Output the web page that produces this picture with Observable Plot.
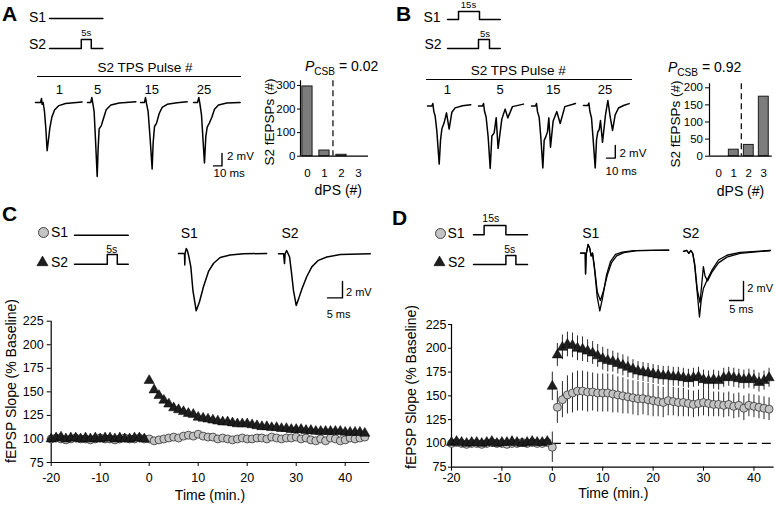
<!DOCTYPE html>
<html><head><meta charset="utf-8">
<script src="https://cdn.jsdelivr.net/npm/d3@7"></script>
<script src="https://cdn.jsdelivr.net/npm/@observablehq/plot@0.6"></script>
<style>
body{margin:0;background:#fff;}
#fig{position:relative;width:775px;height:509px;overflow:hidden;background:#fff;font-family:"Liberation Sans",Arial,Helvetica,sans-serif;color:#000;}
.t{position:absolute;white-space:nowrap;line-height:1;}
.t sub{font-size:0.72em;vertical-align:-0.35em;line-height:0;}
.hl{position:absolute;background:#000;height:1.3px;}
</style></head><body><div id="fig"></div>
<script>
// ---------------- DATA ----------------
// Bar charts: number of S2 fEPSPs by number of dendritic population spikes (dPS)
const dpsCats = [0, 1, 2, 3];
const countsA = [296, 24, 6, 0];
const countsB = [0, 19, 33, 174];
const dpsThreshold = 1.5;
const pcsbA = "0.02", pcsbB = "0.92";
const pulseLabels = ["1", "5", "15", "25"];

// Stimulation protocol schematics [time unit, level]
const protoA_S1 = [[0,0],[26.7,0]];
const protoA_S2 = [[0,0],[15.9,0],[15.9,1],[20.9,1],[20.9,0],[26.7,0]];
const protoB_S1 = [[0,0],[5.5,0],[5.5,1],[16,1],[16,0],[26.4,0]];
const protoB_S2 = [[0,0],[15.5,0],[15.5,1],[21,1],[21,0],[26.4,0]];
const protoC_S1 = [[0,0],[26.9,0]];
const protoC_S2 = [[0,0],[16.4,0],[16.4,1],[21.4,1],[21.4,0],[26.9,0]];
const protoD_S1 = [[0,0],[5.3,0],[5.3,1],[16.2,1],[16.2,0],[27,0]];
const protoD_S2 = [[0,0],[16.2,0],[16.2,1],[21.2,1],[21.2,0],[27,0]];

// Example traces [ms, mV]
const traceA1 = [[0,0],[5.9,0],[7.1,0.65],[7.8,-0.3],[9,0],[10.6,-1.5],[12.2,-4.3],[13.7,-7.8],[15.3,-6],[16.9,-4.1],[19.2,-2.4],[22.4,-1.2],[27.5,-0.5],[35.3,-0.15],[54.9,0.1]];
const traceA5 = [[0,0],[3.9,0],[5.1,0.8],[6.3,-0.2],[7.8,-1.5],[9.4,-6],[11.4,-12],[12.5,-7.5],[13.7,-4.3],[16.1,-3.8],[18.8,-2.6],[22,-1.2],[27.5,-0.4],[37.3,-0.1],[56.9,0.1]];
const traceA15 = [[0,0],[4.7,0],[5.9,0.8],[7.1,-0.2],[9,-1.5],[11.4,-6],[13.7,-10.8],[14.9,-6.5],[16.5,-3.9],[18.8,-3.4],[22,-1.8],[25.5,-0.8],[31.4,-0.3],[43,-0.05],[54.9,0.1]];
const traceA25 = [[0,0],[4.7,0],[6.3,0.8],[7.5,-0.2],[9.4,-2],[11.4,-6.5],[12.9,-9.8],[14.5,-5.5],[16.1,-4],[18.8,-3.3],[21.6,-2.4],[24.7,-1.1],[29.4,-0.4],[39.2,-0.1],[54.9,0]];
const traceB1 = [[0,0],[4.9,0],[6.1,0.4],[7.2,-0.9],[8.7,-1.6],[10.6,-4],[13.3,-9.3],[14.8,-5.5],[16.3,-3.7],[18.9,-2.7],[21.6,-1.1],[24.6,-3.7],[27.7,-1.0],[31.4,-0.3],[39.8,0.05],[49.2,0.2]];
const traceB5 = [[0,0],[4.5,0],[5.7,0.4],[6.8,-0.8],[8.7,-1.8],[11,-5],[13.3,-10],[15.2,-4.8],[17.8,-4.3],[20.1,-1.9],[22.3,-6.8],[26.5,-2.1],[30.3,-0.5],[33.3,-1.9],[38.6,-0.1],[51.1,0.3]];
const traceB15 = [[0,0],[4.5,0],[5.7,0.4],[6.8,-0.9],[8.7,-1.8],[10.6,-5],[12.9,-9.9],[14.4,-5.5],[16.3,-4.9],[18.2,-4.1],[19.7,-1.9],[21.6,-6.6],[24.6,-2.4],[28.8,-0.9],[32.6,-2.8],[37.9,-0.1],[50,0.4]];
const traceB25 = [[0,0],[4.9,0],[6.1,0.4],[7.2,-0.9],[9.1,-2],[11,-5.5],[13.3,-10],[14.8,-5.5],[16.3,-4.2],[17.8,-3.9],[19.3,-2.4],[21.6,-5.9],[25,-1.5],[27.7,0.8],[30.3,-1.8],[33,-4],[36,-1.5],[39.8,-0.4],[45.5,0],[51.9,0.3]];
const traceC_S1 = [[0,0],[1.7,0],[2.0,0],[2.1,-1.4],[2.2,0],[2.6,0.6],[3.0,0.3],[3.4,-0.3],[4.1,-1.6],[4.8,-4.5],[5.9,-7.0],[7.0,-5.9],[8.3,-4.1],[10,-2.2],[11.7,-1.2],[13.9,-0.5],[17.2,-0.2],[21.7,-0.05],[29.4,0]];
const traceC_S2 = [[0,0],[1.7,0],[2.0,-1.2],[2.2,0],[2.7,0.4],[3.1,0.1],[3.7,-0.4],[4.3,-2.2],[5,-4.5],[5.9,-6.3],[6.7,-5.5],[7.8,-4.3],[9.4,-2.8],[11.1,-1.6],[13.3,-0.8],[16.1,-0.4],[20.6,-0.1],[30.6,0]];
const traceD_S1pre = [[0,-0.3],[1.7,-0.3],[1.8,-2.5],[2.0,-0.5],[2.7,0.6],[3.3,0.2],[3.8,-0.6],[4.3,-0.3],[5,-1.8],[6,-4.4],[7.1,-5.3],[8.2,-4.3],[9.6,-2.6],[11.1,-1.3],[12.9,-0.6],[15.5,-0.25],[20.2,-0.05],[31.5,0]];
const traceD_S1post = [[0,-0.3],[1.7,-0.3],[1.8,-2.5],[2.0,-0.5],[2.7,0.6],[3.3,0.2],[3.8,-0.6],[4.3,-0.3],[5,-2],[6,-5],[6.9,-6.4],[7.9,-5],[9.3,-2.6],[10.7,-1.2],[12.5,-0.45],[14.9,-0.2],[19,-0.05],[31.5,0]];
const traceD_S2post = [[0,0],[1.2,0.1],[1.9,-0.2],[2.6,0.1],[3.3,-0.2],[4.0,-1.5],[4.8,-4],[5.7,-6.9],[6.3,-5.2],[7.1,-3.9],[8.3,-3.1],[10.1,-2],[12.5,-0.9],[15.5,-0.4],[20.2,-0.1],[31,0.1]];
const traceD_S2pre = [[0,0],[1.2,0.1],[1.9,-0.2],[2.6,0.1],[3.3,-0.2],[4.0,-1.3],[4.9,-4],[5.9,-5.4],[6.6,-3.2],[7.1,-1.6],[7.7,-2.6],[8.6,-3.1],[10.1,-2.2],[12.5,-1.2],[15.5,-0.6],[20.2,-0.2],[31,0.1]];

// Scale bars [ms, mV]
const scaleAB = [10, 2];
const scaleCD = [5, 2];

// Time courses (% baseline), one sample per minute
const timeC = d3.range(-20, 45);
const s1C = [100,101,100,99,100,101,100,100,99,100,101,100,100,99,100,101,100,100,101,100,
  100,
  98,99,100,101,102,101,103,104,103,105,103,102,102,100,101,100,99,100,101,100,100,101,101,100,102,101,100,101,101,102,100,101,99,98,100,98,101,100,98,99,101,100,101,102];
const s2C = [100,101,102,100,101,101,100,101,100,101,100,101,101,100,101,100,100,101,101,100,
  162,
  152,146,141,137,133,131,129,127,126,123,122,121,120,119,118,118,117,116,116,116,115,114,113,113,112,112,111,111,110,110,110,109,109,108,108,108,108,108,108,107,107,107,107,106];

const timeD = d3.range(-20, 44);
const s1D = [100,101,100,99,100,100,99,100,101,100,100,99,100,100,101,100,101,100,100,101,
  96,
  138,146,151,153,155,155,154,154,153,153,153,152,151,150,149,148,147,147,146,145,144,143,145,144,143,143,142,141,142,143,142,141,141,140,141,139,140,137,140,139,138,137,136];
const s2D = [101,102,101,100,101,101,100,101,102,100,101,101,102,101,100,101,102,101,101,102,
  160,
  193,201,204,203,200,199,197,195,192,189,187,186,184,182,180,178,176,175,174,173,172,171,171,170,170,169,168,169,170,167,166,167,166,169,170,169,168,167,168,167,164,166,169];
const errS1D = [3,3,3,3,3,3,3,3,3,3,3,3,3,3,3,3,3,3,3,3,
  16,
  17,19,20,21,21,21,21,20,20,20,20,20,19,19,18,18,18,17,17,17,16,16,16,15,15,15,14,14,14,14,14,13,13,13,13,13,13,13,12,12,12,12,12];
const errS2D = [3,3,3,3,3,3,3,3,3,3,3,3,3,3,3,3,3,3,3,3,
  15,
  12,13,13,13,13,13,12,12,12,12,12,11,11,11,11,10,10,10,10,10,10,10,10,10,10,10,10,10,10,10,10,10,10,10,10,10,10,10,10,10,10,10,10];

const timeTicks = [-20,-10,0,10,20,30,40];
const slopeTicks = [75,100,125,150,175,200,225];

// ---------------- HELPERS ----------------
const FONT = '"Liberation Sans", Arial, Helvetica, sans-serif';
const fig = document.getElementById("fig");
function place(el, left, top) {
  el.style.position = "absolute"; el.style.left = left + "px"; el.style.top = top + "px";
  fig.appendChild(el); return el;
}
function text(str, x, y, o = {}) {
  const d = document.createElement("div");
  d.className = "t";
  if (o.html) d.innerHTML = str; else d.textContent = str;
  d.style.fontSize = (o.size || 13) + "px";
  if (o.bold) d.style.fontWeight = "bold";
  const a = o.anchor || "middle";
  const tx = a === "middle" ? "-50%" : a === "end" ? "-100%" : "0";
  d.style.transform = `translate(${tx},-50%)` + (o.rotate ? ` rotate(${o.rotate}deg)` : "");
  place(d, x, y);
}
function hline(x1, x2, y) {
  const d = document.createElement("div"); d.className = "hl";
  d.style.width = (x2 - x1) + "px"; place(d, x1, y);
}
const baseStyle = {fontFamily: FONT, color: "#000", background: "transparent", overflow: "visible"};
// Line group drawn with its own linear scales; (ax, ay) = pixel position of (0,0)
function linePlot(series, o) {
  const pad = 3;
  const w = (o.xMax - o.xMin) * o.pxX, h = (o.yMax - o.yMin) * o.pxY;
  const p = Plot.plot({
    width: w + 2 * pad, height: h + 2 * pad,
    marginTop: pad, marginBottom: pad, marginLeft: pad, marginRight: pad,
    style: baseStyle,
    x: {domain: [o.xMin, o.xMax], axis: null},
    y: {domain: [o.yMin, o.yMax], axis: null},
    marks: series.map(s => Plot.line(s, {stroke: "#000", strokeWidth: o.sw || 1.4, strokeLinejoin: "round"}))
  });
  place(p, o.ax + o.xMin * o.pxX - pad, o.ay - o.yMax * o.pxY - pad);
}
function trace(series, ax, ay, pxX, pxY, sw) {
  const all = series.flat();
  const xs = all.map(d => d[0]), ys = all.map(d => d[1]);
  linePlot(series, {ax, ay, pxX, pxY, sw, xMin: 0, xMax: d3.max(xs), yMin: d3.min(ys), yMax: Math.max(0.1, d3.max(ys))});
}
function scaleBar([ms, mv], cx, cy, pxX, pxY) {
  linePlot([[[-ms, 0], [0, 0], [0, mv]]], {ax: cx, ay: cy, pxX, pxY, xMin: -ms, xMax: 0, yMin: 0, yMax: mv, sw: 1.4});
}
function proto(steps, ax, ay, pxY) {
  const xs = steps.map(d => d[0]);
  linePlot([steps], {ax, ay, pxX: 2, pxY, xMin: 0, xMax: d3.max(xs), yMin: 0, yMax: 1, sw: 1.5});
}
function legendDot(symbol, cx, cy) {
  const p = Plot.plot({
    width: 16, height: 16, margin: 0, style: baseStyle,
    x: {domain: [-1, 1], axis: null}, y: {domain: [-1, 1], axis: null},
    marks: symbol === "circle"
      ? [Plot.dot([[0, 0]], {r: 5, fill: "#c4c4c4", stroke: "#333", strokeWidth: 0.9})]
      : [Plot.dot([[0, 0]], {symbol: "triangle", r: 4.1, fill: "#1e1e1e", stroke: "#000", strokeWidth: 0.6})]
  });
  place(p, cx - 8, cy - 8);
}
function barPlot(counts, o) {
  const rows = dpsCats.map((c, i) => ({dps: c, n: counts[i]}));
  const p = Plot.plot({
    width: o.width, height: o.height,
    marginTop: o.mt, marginBottom: o.mb, marginLeft: o.ml, marginRight: o.mr,
    style: {...baseStyle, fontSize: "11.5px"},
    x: {domain: o.xDomain, ticks: dpsCats, tickSize: 0, tickPadding: 13, tickFormat: d => `${d}`, label: null},
    y: {domain: o.yDomain, ticks: o.yTicks, tickSize: o.yts, tickPadding: o.ytp, tickFormat: d => `${d}`, label: null},
    marks: [
      Plot.rectY(rows, {x1: d => d.dps - o.hw, x2: d => d.dps + o.hw, y: "n", fill: "#7c7c7c", stroke: "#1a1a1a", strokeWidth: 1}),
      Plot.ruleX([dpsThreshold], {stroke: "#000", strokeWidth: 1.2, strokeDasharray: "6,4"}),
      Plot.ruleY([0], {stroke: "#000", strokeWidth: 1.2}),
      Plot.ruleX([o.xDomain[0]], {stroke: "#000", strokeWidth: 1.2})
    ]
  });
  place(p, o.left, o.top);
}
function tsPlot(o, marks) {
  const p = Plot.plot({
    width: o.width, height: o.height,
    marginTop: o.mt, marginBottom: o.mb, marginLeft: o.ml, marginRight: o.mr,
    style: {...baseStyle, fontSize: "12.5px"},
    x: {domain: o.xDomain, ticks: timeTicks, tickSize: 4, tickPadding: o.xtp, tickFormat: d => `${d}`, label: null},
    y: {domain: [75, 225], ticks: slopeTicks, tickSize: o.yts, tickPadding: o.ytp, tickFormat: d => `${d}`, label: null},
    marks: [
      Plot.ruleX([o.xDomain[0]], {stroke: "#000", strokeWidth: 1.2}),
      Plot.ruleY([75], {stroke: "#000", strokeWidth: 1.2}),
      ...marks
    ]
  });
  place(p, o.left, o.top);
}
const circleStyle = {r: 4, fill: "#c4c4c4", stroke: "#333", strokeWidth: 0.8};
const triStyle = {symbol: "triangle", r: 3.8, fill: "#1e1e1e", stroke: "#000", strokeWidth: 0.5};

// ---------------- PANEL A ----------------
text("A", 9.5, 13, {size: 21, bold: true});
text("S1", 37.5, 16.7, {size: 14});
text("S2", 37.5, 44.3, {size: 14});
proto(protoA_S1, 49.3, 18.3, 9);
proto(protoA_S2, 49.3, 48.3, 9);
text("5s", 86.2, 33.3, {size: 9.5});
text("S2 TPS Pulse #", 145, 67.7, {size: 13.5});
hline(36.7, 240.7, 75.5);
[59.3, 97.7, 151.7, 204].forEach((x, i) => text(pulseLabels[i], x, 89.3, {size: 13}));
[[traceA1, 35], [traceA5, 86.7], [traceA15, 140], [traceA25, 193.3]].forEach(([tr, x]) => trace([tr], x, 101.7, 0.85, 6.17, 1.5));
scaleBar(scaleAB, 221.5, 165.3, 0.85, 6.2);
text("2 mV", 227, 156.5, {size: 11.5, anchor: "start"});
text("10 ms", 213.5, 174.3, {size: 11.5, anchor: "start"});
text(`<i>P</i><sub>CSB</sub> = ${pcsbA}`, 305, 65.5, {size: 14, anchor: "start", html: true});
barPlot(countsA, {left: 260, top: 70, width: 115, height: 115, mt: 10.3, mb: 29.3, ml: 40, mr: 7,
  xDomain: [-0.41, 3.59], yDomain: [0, 320], yTicks: [0, 100, 200, 300], yts: 3, ytp: 2, hw: 0.3});
text("S2 fEPSPs (#)", 269.5, 122, {size: 13.5, rotate: -90});
text("dPS (#)", 338.3, 190, {size: 14});

// ---------------- PANEL B ----------------
text("B", 403.5, 13, {size: 21, bold: true});
text("S1", 432, 16.7, {size: 14});
text("S2", 433, 44.3, {size: 14});
proto(protoB_S1, 447.3, 19, 8);
proto(protoB_S2, 447.3, 48.3, 9);
text("15s", 468.5, 5, {size: 9.5});
text("5s", 485, 33.7, {size: 9.5});
text("S2 TPS Pulse #", 518.3, 71, {size: 13.5});
hline(426, 631.7, 78.5);
[447.3, 500, 553.3, 605].forEach((x, i) => text(pulseLabels[i], x, 89.3, {size: 13}));
[[traceB1, 426.7], [traceB5, 478.3], [traceB15, 531], [traceB25, 583.3]].forEach(([tr, x]) => trace([tr], x, 105, 0.88, 6.25, 1.5));
scaleBar(scaleAB, 615, 157.7, 0.88, 6.3);
text("2 mV", 619.5, 154, {size: 11.5, anchor: "start"});
text("10 ms", 605.5, 172, {size: 11.5, anchor: "start"});
text(`<i>P</i><sub>CSB</sub> = ${pcsbB}`, 668, 67, {size: 14, anchor: "start", html: true});
barPlot(countsB, {left: 670, top: 70, width: 105, height: 115, mt: 13.2, mb: 29.3, ml: 39, mr: 3.3,
  xDomain: [-0.62, 3.56], yDomain: [0, 212], yTicks: [0, 50, 100, 150, 200], yts: 4, ytp: 2.5, hw: 0.33});
text("S2 fEPSPs (#)", 676, 124, {size: 13.5, rotate: -90});
text("dPS (#)", 740.5, 190.7, {size: 14});

// ---------------- PANEL C ----------------
text("C", 9.5, 213, {size: 21, bold: true});
legendDot("circle", 43.3, 232.3);
legendDot("triangle", 42.3, 261.7);
text("S1", 59.5, 232.3, {size: 14});
text("S2", 59.5, 261.7, {size: 14});
proto(protoC_S1, 74, 234.3, 9.7);
proto(protoC_S2, 74, 264, 9.7);
text("5s", 111.7, 248.8, {size: 10.5});
text("S1", 189.2, 233.3, {size: 14});
text("S2", 290, 233.3, {size: 14});
trace([traceC_S1], 178.3, 253.3, 3, 8.2, 1.5);
trace([traceC_S2], 278.3, 253.3, 3, 8.2, 1.5);
scaleBar(scaleCD, 341.7, 297.3, 3, 8.2);
text("2 mV", 346, 292.3, {size: 11, anchor: "start"});
text("5 ms", 326.7, 314.3, {size: 11, anchor: "start"});
const rowsS1C = timeC.map((t, i) => ({t, v: s1C[i]}));
const rowsS2C = timeC.map((t, i) => ({t, v: s2C[i]}));
tsPlot({left: 0, top: 305, width: 390, height: 204, mt: 15.7, mb: 47, ml: 50.7, mr: 20.8,
  xDomain: [-20, 45], xtp: 6.5, yts: 4, ytp: 3.5}, [
  Plot.dot(rowsS1C, {x: "t", y: "v", ...circleStyle}),
  Plot.dot(rowsS2C, {x: "t", y: "v", ...triStyle})
]);
text("fEPSP Slope (% Baseline)", 11, 381, {size: 14, rotate: -90});
text("Time (min.)", 210, 495, {size: 14});

// ---------------- PANEL D ----------------
text("D", 399.5, 216.7, {size: 21, bold: true});
legendDot("circle", 440, 232.7);
legendDot("triangle", 439.3, 261.7);
text("S1", 456, 232.7, {size: 14});
text("S2", 456.5, 261.7, {size: 14});
proto(protoD_S1, 472.7, 234.3, 9.3);
proto(protoD_S2, 472.7, 264, 9);
text("15s", 490.8, 218.3, {size: 10.5});
text("5s", 509.7, 248.8, {size: 10.5});
text("S1", 590.8, 233.3, {size: 14});
text("S2", 690.8, 233.3, {size: 14});
trace([traceD_S1pre, traceD_S1post], 580, 249.3, 2.8, 9.5, 1.3);
trace([traceD_S2pre, traceD_S2post], 683.3, 250.7, 2.8, 9.5, 1.3);
scaleBar(scaleCD, 743.3, 300, 2.8, 9.5);
text("2 mV", 747.3, 287.7, {size: 11, anchor: "start"});
text("5 ms", 729.3, 309.3, {size: 11, anchor: "start"});
const rowsS1D = timeD.map((t, i) => ({t, v: s1D[i], e: errS1D[i]}));
const rowsS2D = timeD.map((t, i) => ({t, v: s2D[i], e: errS2D[i]}));
tsPlot({left: 390, top: 305, width: 385, height: 204, mt: 19, mb: 42.3, ml: 61, mr: 1.4,
  xDomain: [-20, 44], xtp: 1.5, yts: 3, ytp: 2}, [
  Plot.ruleY([100], {x1: () => 0, x2: () => 44, stroke: "#000", strokeWidth: 1.2, strokeDasharray: "9,5"}),
  Plot.ruleX(rowsS1D, {x: "t", y1: d => d.v - d.e, y2: d => d.v + d.e, stroke: "#2a2a2a", strokeWidth: 1}),
  Plot.dot(rowsS1D, {x: "t", y: "v", ...circleStyle}),
  Plot.ruleX(rowsS2D, {x: "t", y1: d => d.v - d.e, y2: d => d.v + d.e, stroke: "#2a2a2a", strokeWidth: 1}),
  Plot.dot(rowsS2D, {x: "t", y: "v", ...triStyle})
]);
text("fEPSP Slope (% Baseline)", 410.7, 387, {size: 14, rotate: -90});
text("Time (min.)", 613.3, 493.3, {size: 14});
</script></body></html>
